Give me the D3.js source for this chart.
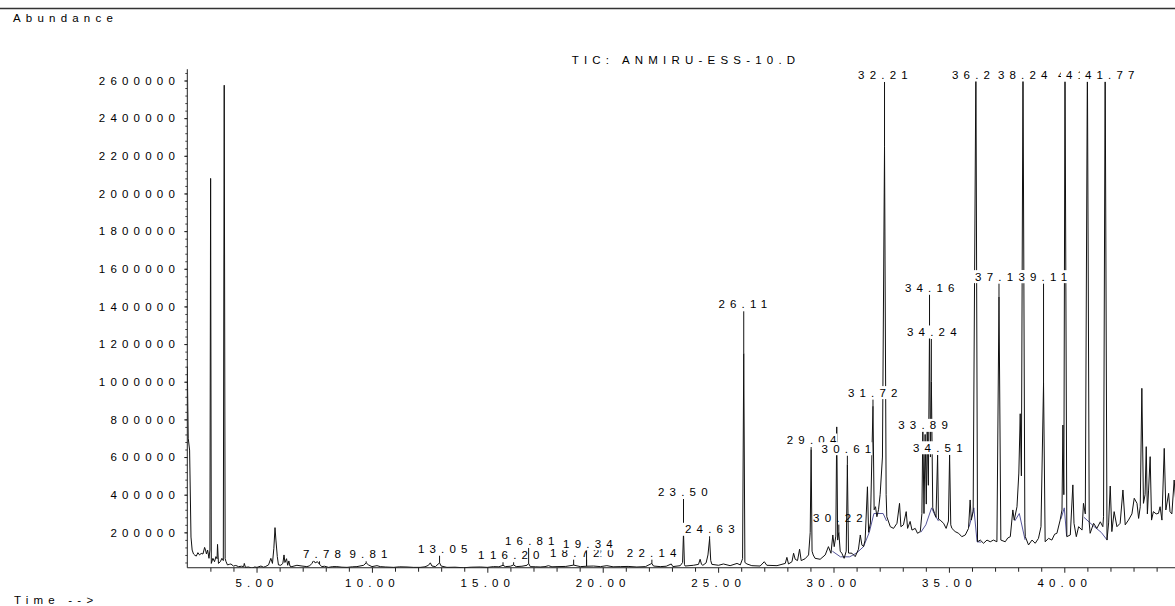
<!DOCTYPE html>
<html><head><meta charset="utf-8">
<script src="https://cdn.jsdelivr.net/npm/d3@7"></script>
<style>
body{margin:0;background:#fff;}
svg text{font-family:"Liberation Sans",Arial,sans-serif;font-size:11.5px;letter-spacing:5.2px;fill:#000;}
</style></head><body>
<svg id="chart" width="1175" height="606"></svg>
<script>
// ---- data (retention time in minutes, abundance in counts) ----
const retentionTimes = [
2.00,2.04,2.10,2.16,2.21,2.27,2.33,2.39,2.46,2.53,2.60,2.68,2.75,2.79,2.83,2.88,2.94,2.98,3.01,3.04,
3.11,3.18,3.24,3.29,3.31,3.35,3.43,3.50,3.56,3.60,3.64,3.68,3.74,3.82,3.89,4.00,4.10,4.22,4.35,4.44,
4.47,4.52,4.65,4.80,4.92,5.02,5.19,5.30,5.38,5.52,5.62,5.69,5.75,5.80,5.84,5.90,5.95,6.05,6.14,6.19,
6.23,6.30,6.35,6.40,6.45,6.53,6.75,6.97,7.18,7.30,7.40,7.47,7.54,7.64,7.73,7.83,7.95,8.12,8.30,8.48,
8.70,8.92,9.15,9.35,9.64,9.75,9.85,10.00,10.22,10.36,10.60,10.94,11.20,11.52,11.80,12.09,12.30,12.45,12.53,12.60,
12.75,12.93,13.00,13.25,13.60,13.97,14.30,14.69,15.00,15.27,15.50,15.68,15.78,16.00,16.14,16.25,16.50,16.72,16.79,16.86,
17.10,17.29,17.50,17.65,17.80,18.02,18.40,18.74,19.03,19.30,19.60,19.90,20.18,20.45,20.76,21.10,21.48,21.85,22.13,22.20,
22.49,22.75,22.97,23.04,23.36,23.46,23.50,23.54,23.57,23.93,24.15,24.22,24.28,24.34,24.48,24.56,24.63,24.68,24.73,25.02,
25.23,25.52,25.82,25.96,26.06,26.11,26.16,26.25,26.46,26.82,27.00,27.11,27.55,27.91,27.98,28.05,28.20,28.27,28.34,28.44,
28.53,28.60,28.77,28.92,28.99,29.03,29.07,29.12,29.20,29.42,29.64,29.78,29.89,29.97,30.03,30.10,30.14,30.18,30.23,30.29,
30.36,30.46,30.55,30.60,30.65,30.80,30.94,31.08,31.16,31.23,31.30,31.37,31.47,31.52,31.60,31.71,31.76,31.82,31.88,31.95,
32.02,32.12,32.21,32.28,32.31,32.46,32.60,32.75,32.86,32.92,33.03,33.15,33.21,33.32,33.40,33.54,33.64,33.76,33.83,33.87,
33.92,33.97,34.02,34.06,34.11,34.16,34.20,34.24,34.30,34.38,34.44,34.51,34.55,34.62,34.77,34.88,34.98,35.03,35.08,35.13,
35.27,35.42,35.56,35.71,35.85,35.92,35.97,36.05,36.17,36.24,36.36,36.50,36.65,36.79,36.93,37.08,37.17,37.25,37.44,37.55,
37.66,37.77,37.83,37.95,38.03,38.09,38.14,38.21,38.29,38.31,38.45,38.60,38.74,38.88,38.99,39.10,39.17,39.32,39.46,39.58,
39.68,39.82,39.90,39.94,39.98,40.03,40.11,40.26,40.37,40.42,40.52,40.62,40.77,40.83,40.91,41.00,41.08,41.12,41.27,41.41,
41.56,41.67,41.70,41.77,41.85,41.92,41.99,42.06,42.16,42.28,42.42,42.54,42.64,42.78,42.93,43.03,43.15,43.22,43.29,43.36,
43.43,43.50,43.55,43.60,43.65,43.72,43.78,43.86,43.98,44.08,44.15,44.23,44.33,44.40,44.52,44.58,44.66,44.76,44.85,45.00
];
const abundance = [
1080000,700000,637000,175000,106000,85000,78000,74000,92000,80000,88000,85000,120000,106000,85000,106000,62000,106000,2080000,35000,
62000,44000,71000,60000,136000,35000,44000,62000,50000,2575000,60000,44000,27000,30000,32000,21000,24000,18000,20000,18000,
35000,14000,16000,10000,16000,14000,21000,15000,18000,27000,62000,35000,115000,225000,159000,71000,27000,25000,35000,80000,
40000,60000,25000,48000,20000,18000,25000,21000,18000,22000,35000,50000,38000,44000,30000,18000,20000,14000,18000,18000,
15000,14000,17000,18000,25000,38000,27000,18000,23000,18000,16000,14000,17000,16000,14000,14000,17000,25000,38000,21000,
18000,38000,21000,14000,15000,12000,15000,16000,14000,18000,17000,25000,18000,20000,27000,18000,20000,25000,35000,18000,
17000,16000,18000,23000,17000,18000,19000,26000,18000,20000,21000,18000,23000,17000,18000,19000,16000,18000,35000,21000,
18000,20000,32000,18000,23000,40000,200000,30000,21000,25000,30000,57000,30000,25000,38000,80000,165000,50000,30000,25000,
32000,23000,35000,27000,60000,1150000,40000,32000,23000,21000,44000,25000,23000,35000,67000,32000,44000,89000,57000,50000,
110000,50000,60000,80000,200000,640000,100000,80000,62000,57000,80000,124000,89000,186000,124000,180000,760000,159000,200000,100000,
89000,62000,100000,560000,90000,89000,71000,110000,186000,133000,124000,159000,442000,200000,250000,870000,320000,336000,283000,320000,
400000,600000,2250000,400000,283000,230000,221000,248000,354000,230000,240000,310000,221000,258000,212000,221000,195000,204000,300000,760000,
300000,720000,350000,740000,450000,1300000,600000,1000000,330000,300000,280000,610000,270000,265000,248000,221000,260000,611000,240000,221000,
204000,195000,177000,186000,221000,372000,265000,310000,2700000,150000,159000,142000,159000,150000,159000,150000,1450000,159000,150000,170000,
177000,319000,265000,336000,515000,830000,500000,2700000,250000,177000,133000,159000,142000,168000,230000,993000,150000,168000,159000,190000,
195000,265000,319000,770000,400000,2700000,177000,186000,452000,248000,177000,230000,212000,354000,298000,2700000,250000,195000,248000,221000,
256000,230000,283000,2700000,159000,250000,446000,204000,310000,230000,248000,425000,240000,265000,298000,381000,354000,274000,336000,965000,
354000,400000,655000,298000,420000,602000,265000,310000,298000,301000,336000,265000,646000,319000,407000,310000,298000,478000,330000,300000
];
// integration baselines drawn by the data system (time, abundance)
const baselineSegments = [
  [[29.95,100000],[30.30,70000],[30.70,70000],[31.00,90000],[31.30,124000],[31.55,200000],[31.75,300000],[32.15,300000],[32.30,260000]],
  [[33.78,200000],[34.00,240000],[34.25,330000],[34.40,290000],[34.55,260000]],
  [[35.88,230000],[36.08,330000],[36.22,150000],[36.40,148000]],
  [[37.85,260000],[38.05,300000],[38.30,160000]],
  [[39.85,270000],[40.00,330000],[40.10,180000]],
  [[40.85,280000],[41.30,230000],[41.60,200000],[41.85,160000]]
];
// peak labels: text, peak time, label centre time, label level (abundance units); drawing order
const peakLabels = [
  {text:"7.78",  t:7.73,  pos:7.95,  level:62000},
  {text:"9.81",  t:9.75,  pos:9.96,  level:62000},
  {text:"13.05", t:12.93, pos:13.18, level:92000},
  {text:"15.58", t:15.68, pos:15.78, level:57000},
  {text:"16.20", t:16.14, pos:16.30, level:57000},
  {text:"16.81", t:16.79, pos:16.95, level:133000},
  {text:"19.20", t:19.30, pos:19.51, level:71000},
  {text:"18.72", t:18.74, pos:18.90, level:71000},
  {text:"19.34", t:19.30, pos:19.47, level:118000},
  {text:"22.14", t:22.13, pos:22.23, level:71000},
  {text:"23.50", t:23.50, pos:23.58, level:393000},
  {text:"24.63", t:24.63, pos:24.75, level:195000},
  {text:"26.11", t:26.11, pos:26.18, level:1390000},
  {text:"29.04", t:29.03, pos:29.16, level:669000},
  {text:"30.22", t:30.23, pos:30.30, level:257000, masked:false},
  {text:"30.61", t:30.60, pos:30.67, level:623000},
  {text:"31.72", t:31.71, pos:31.81, level:921000},
  {text:"32.21", t:32.21, pos:32.25, level:2608000},
  {text:"33.89", t:33.87, pos:33.99, level:747000},
  {text:"34.16", t:34.16, pos:34.28, level:1478000},
  {text:"34.24", t:34.24, pos:34.37, level:1243000},
  {text:"34.51", t:34.51, pos:34.63, level:628000},
  {text:"36.23", t:36.17, pos:36.32, level:2608000},
  {text:"37.17", t:37.17, pos:37.32, level:1537000},
  {text:"39.11", t:39.10, pos:39.18, level:1537000},
  {text:"40.04", t:40.03, pos:40.91, level:2608000},
  {text:"41.00", t:41.00, pos:41.26, level:2608000},
  {text:"38.24", t:38.21, pos:38.31, level:2608000},
  {text:"41.77", t:41.77, pos:42.08, level:2608000}
];
const xTickLabels = [5, 10, 15, 20, 25, 30, 35, 40];
const xMinorTicks = d3.range(3, 46);
const yTickLabels = [200000,400000,600000,800000,1000000,1200000,1400000,1600000,1800000,2000000,2200000,2400000,2600000];
const yMinorTicks = d3.range(40000, 2640001, 40000);
const titleText = "TIC: ANMIRU-ESS-10.D";

// ---- drawing ----
const svg = d3.select("#chart");
const x = d3.scaleLinear().domain([2.0, 45.0]).range([187.3, 1179.7]);
const y = d3.scaleLinear().domain([0, 2600000]).range([570, 80.5]);
const yFloor = 12000, yCeil = 2660000;
const LS = 5.2;

svg.append("line").attr("x1",0).attr("x2",1175).attr("y1",8.5).attr("y2",8.5)
  .attr("stroke","#333").attr("stroke-width",1.6);

svg.append("text").attr("x",13).attr("y",21.7).text("Abundance");
svg.append("text").attr("x",14).attr("y",604).text("Time -->");
svg.append("text").attr("x",571.7).attr("y",64).text(titleText);

svg.append("defs").append("clipPath").attr("id","plot").append("rect")
  .attr("x", x(2.0)).attr("y", y(yCeil)).attr("width", 1175 - x(2.0)).attr("height", y(yFloor) - y(yCeil));

// axes
const gx = svg.append("g").attr("transform", `translate(0,${y(yFloor)})`)
  .call(d3.axisBottom(x).tickValues(xMinorTicks).tickSizeOuter(0).tickSize(4)
    .tickFormat(d => xTickLabels.includes(d) ? d.toFixed(2) : ""));
gx.attr("font-size", null).attr("font-family", null);
gx.select(".domain").remove();
gx.selectAll(".tick line").attr("y2", d => xTickLabels.includes(d) ? 5 : 4).attr("stroke","#222");
gx.selectAll(".tick text").attr("y", 19.3).attr("dy", 0);
svg.append("line").attr("x1", x(2.0)).attr("x2", 1175).attr("y1", y(yFloor)).attr("y2", y(yFloor))
  .attr("stroke","#222").attr("stroke-width",1);

const gyMinor = svg.append("g").attr("transform", `translate(${x(2.0)},0)`)
  .call(d3.axisLeft(y).tickValues(yMinorTicks).tickSize(2).tickFormat(""));
gyMinor.select(".domain").remove();
gyMinor.selectAll(".tick line").attr("stroke","#444");
const gy = svg.append("g").attr("transform", `translate(${x(2.0)},0)`)
  .call(d3.axisLeft(y).tickValues(yTickLabels).tickSize(3).tickFormat(d => String(d)));
gy.attr("font-size", null).attr("font-family", null);
gy.select(".domain").remove();
gy.selectAll(".tick line").attr("stroke","#222");
gy.selectAll(".tick text").attr("x", -7.3).attr("dy", "0.32em");
svg.append("line").attr("x1", x(2.0)).attr("x2", x(2.0)).attr("y1", y(yCeil)).attr("y2", y(yFloor))
  .attr("stroke","#222").attr("stroke-width",1);

// trace
const pts = retentionTimes.map((t, i) => [t, abundance[i]]);
const line = d3.line().x(d => x(d[0])).y(d => y(d[1]));
const plot = svg.append("g").attr("clip-path","url(#plot)");
plot.selectAll("path.base").data(baselineSegments).join("path").attr("class","base")
  .attr("d", line).attr("fill","none").attr("stroke","#55559a").attr("stroke-width",1);
plot.append("path").datum(pts).attr("d", line).attr("fill","none")
  .attr("stroke","#111").attr("stroke-width",1).attr("stroke-linejoin","miter");

// peak labels
const gl = svg.append("g");
peakLabels.forEach(l => {
  const cx = x(l.pos), by = y(l.level);
  const i = retentionTimes.indexOf(l.t);
  if (i >= 0) {
    const ay = y(abundance[i]);
    if (ay > by + 4) {
      gl.append("line").attr("x1", x(l.t)).attr("x2", x(l.t))
        .attr("y1", by + 3).attr("y2", ay).attr("stroke","#111").attr("stroke-width",1);
    }
  }
  const g = gl.append("g");
  const txt = g.append("text").attr("x", cx).attr("y", by).attr("text-anchor","middle").text(l.text);
  if (l.masked !== false) {
    const bb = txt.node().getBBox();
    g.insert("rect","text").attr("x", bb.x - 5).attr("y", by - 10.5)
      .attr("width", bb.width - LS + 6).attr("height", 13).attr("fill","#fff");
  }
});
</script>
</body></html>
